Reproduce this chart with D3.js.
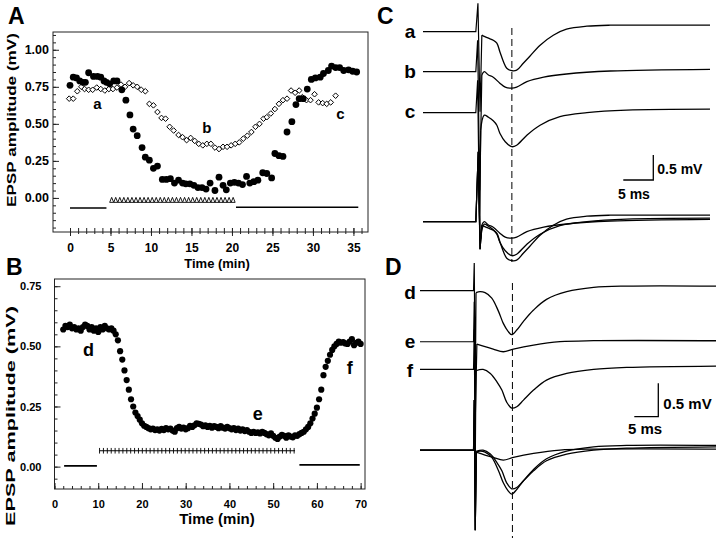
<!DOCTYPE html>
<html><head><meta charset="utf-8">
<script src="https://cdn.jsdelivr.net/npm/d3@7"></script>
<style>
body{margin:0;background:#fff}
svg{display:block}
text{font-family:"Liberation Sans",Arial,Helvetica,sans-serif;font-weight:bold;fill:#000}
</style>
</head><body>
<svg id="fig" width="720" height="540"></svg>
<script>
// ---------------- DATA ----------------
// Panel A: filled circles
const aTimesFilled = [0.0,0.4,0.8,1.2,1.6,1.9,2.3,2.9,3.4,3.8,4.2,4.5,4.9,5.4,5.8,6.4,6.9,7.4,7.8,8.3,8.9,9.3,9.8,10.3,10.8,11.4,11.9,12.4,12.9,13.4,13.9,14.3,14.8,15.3,15.8,16.3,16.8,17.3,17.9,18.4,18.9,19.3,19.8,20.3,20.8,21.3,21.8,22.2,22.7,23.2,23.8,24.3,24.9,25.3,25.8,26.3,26.8,27.4,27.9,28.3,28.8,29.3,29.8,30.3,30.9,31.3,31.9,32.3,32.8,33.3,33.8,34.4,34.9,35.4];
const aFilled = [0.76,0.815,0.81,0.79,0.78,0.78,0.845,0.82,0.82,0.815,0.79,0.78,0.77,0.79,0.79,0.73,0.66,0.56,0.465,0.42,0.34,0.275,0.255,0.20,0.215,0.125,0.125,0.13,0.10,0.12,0.10,0.095,0.095,0.085,0.07,0.07,0.06,0.10,0.05,0.14,0.085,0.055,0.10,0.105,0.10,0.09,0.145,0.10,0.11,0.12,0.17,0.165,0.135,0.30,0.285,0.28,0.445,0.515,0.63,0.67,0.67,0.735,0.80,0.81,0.815,0.84,0.86,0.89,0.88,0.88,0.86,0.865,0.855,0.85];
// Panel A: open diamonds
const aTimesOpen = [-0.1,0.4,0.9,1.4,1.8,2.3,2.8,3.3,3.8,4.3,4.8,5.3,5.8,6.3,6.8,7.3,7.8,8.3,8.8,9.3,9.8,10.3,10.8,11.3,11.8,12.3,12.8,13.4,13.9,14.4,14.9,15.4,15.9,16.4,16.9,17.4,17.9,18.4,18.9,19.4,19.9,20.4,20.9,21.4,21.9,22.4,22.9,23.4,23.9,24.3,24.8,25.3,25.8,26.3,26.8,27.3,27.8,28.3,28.7,29.2,29.7,30.2,30.7,31.2,31.7,32.2,32.8];
const aOpen = [0.67,0.67,0.72,0.75,0.735,0.73,0.73,0.745,0.735,0.725,0.735,0.735,0.745,0.765,0.75,0.775,0.76,0.75,0.73,0.72,0.635,0.625,0.58,0.54,0.535,0.48,0.455,0.425,0.41,0.39,0.405,0.385,0.365,0.355,0.365,0.365,0.34,0.33,0.345,0.345,0.355,0.365,0.375,0.40,0.42,0.445,0.48,0.50,0.535,0.545,0.57,0.60,0.635,0.66,0.67,0.725,0.71,0.725,0.68,0.66,0.66,0.70,0.645,0.64,0.635,0.645,0.69];
const aXTicks = [0,5,10,15,20,25,30,35];
const aYTicks = [0,0.25,0.5,0.75,1.0];
// A application bars: [start, end, level, kind]
const aBars = [[0,4.5,-0.068,"line"],[4.9,20.1,-0.03,"triangles"],[20.5,35.6,-0.063,"line"]];
const aLabels = [["a",3.4,0.6],["b",16.9,0.44],["c",33.4,0.53]];

// Panel B
const bTimes = [2,2.5,3,3.5,4,4.5,5,5.5,6,6.5,7,7.5,8,8.5,9,9.5,10,10.5,11,11.5,12,12.5,13,13.5,14,14.5,15,15.5,16,16.5,17,17.5,18,18.5,19,19.5,20,20.5,21,21.5,22,22.5,23,23.5,24,24.5,25,25.5,26,26.5,27,27.5,28,28.5,29,29.5,30,30.5,31,31.5,32,32.5,33,33.5,34,34.5,35,35.5,36,36.5,37,37.5,38,38.5,39,39.5,40,40.5,41,41.5,42,42.5,43,43.5,44,44.5,45,45.5,46,46.5,47,47.5,48,48.5,49,49.5,50,50.5,51,51.5,52,52.5,53,53.5,54,54.5,55,55.5,56,56.5,57,57.5,58,58.5,59,59.5,60,60.5,61,61.5,62,62.5,63,63.5,64,64.5,65,65.5,66,66.5,67,67.5,68,68.5,69,69.5,70];
const bValues = [0.57,0.585,0.58,0.59,0.575,0.58,0.57,0.575,0.565,0.58,0.59,0.585,0.57,0.58,0.565,0.575,0.56,0.58,0.57,0.585,0.575,0.57,0.575,0.565,
0.55,0.525,0.48,0.445,0.40,0.36,0.32,0.28,0.25,0.225,0.21,0.195,0.18,0.17,0.165,0.16,0.155,
0.158,0.152,0.155,0.15,0.157,0.152,0.16,0.155,0.158,0.15,0.145,0.16,0.165,0.158,0.162,0.155,0.16,0.17,0.165,0.172,0.18,0.178,0.175,0.168,0.172,0.165,0.17,0.162,0.168,0.165,0.16,0.168,0.162,0.158,0.165,0.16,0.155,0.16,0.152,0.158,0.15,0.155,0.148,0.152,0.145,0.14,0.145,0.14,0.142,0.138,0.145,0.14,0.135,0.13,0.138,0.128,0.12,0.115,0.125,0.132,0.128,0.12,0.13,0.125,0.122,0.13,0.128,0.135,0.14,0.145,
0.155,0.165,0.18,0.2,0.22,0.245,0.28,0.32,0.38,0.415,0.44,0.465,0.485,0.5,0.51,0.52,0.515,0.518,0.512,0.51,0.52,0.53,0.505,0.515,0.52,0.51];
const bXTicks = [0,10,20,30,40,50,60,70];
const bYTicks = [0,0.25,0.5,0.75];
const bBars = [[2.2,9.7,0.003,"line"],[10.3,55,0.066,"crosses"],[56,69.8,0.007,"line"]];
const bLabels = [["d",7.8,0.46],["e",46.5,0.195],["f",67.5,0.385]];

// Panel C traces: [ms, mV]; artifact part then EPSP part
const cArtA = [[-9,0],[-0.2,0],[0.15,0.57],[0.5,-1.6],[0.8,-0.07]];
const cWaveA = [[0.8,-0.07],[1.3,-0.1],[1.9,-0.13],[2.7,-0.17],[3.3,-0.23],[3.8,-0.4],[4.4,-0.6],[4.95,-0.73],[5.8,-0.78],[6.6,-0.77],[7.7,-0.63],[8.8,-0.49],[10.5,-0.27],[12.7,-0.07],[14.9,0.05],[18.3,0.11],[22.2,0.13],[27.7,0.13],[38.8,0.13]];
const cArtB = [[-9,0],[-0.2,0],[0.1,0.63],[0.45,-2.37],[0.8,-0.066]];
const cWaveB = [[0.8,-0.066],[1.2,0],[1.9,-0.066],[2.7,-0.11],[3.8,-0.23],[4.7,-0.31],[5.8,-0.33],[6.6,-0.31],[8.3,-0.2],[11.1,-0.11],[14.9,-0.046],[22.2,0.014],[38.8,0.048]];
const cArtC = [[-9,0],[-0.2,0],[0.1,0.65],[0.45,-2.55],[0.6,-0.35]];
const cWaveC = [[0.6,-0.35],[1.2,-0.05],[1.9,-0.09],[2.7,-0.16],[3.3,-0.25],[3.8,-0.41],[4.7,-0.58],[5.8,-0.68],[6.6,-0.65],[8.3,-0.45],[10.5,-0.25],[13.8,-0.08],[18.3,0],[24.9,0.05],[38.8,0.07]];
const cArtOverlay = [[-9,0],[-0.2,0],[0.2,1.4],[0.5,-0.55],[0.8,-0.07]];
const cPeakMs = 5.8;

// Panel D traces
const dArtD = [[-11.25,0],[-0.1,0],[0.05,0.415],[0.25,-1.64],[0.42,-0.03]];
const dWaveD = [[0.42,-0.03],[1.25,-0.015],[2.3,-0.03],[3.7,-0.11],[5.1,-0.31],[6.1,-0.49],[7.1,-0.61],[7.85,-0.66],[8.9,-0.59],[10.3,-0.46],[12.4,-0.29],[15.1,-0.13],[19.3,-0.015],[24.9,0.05],[31.8,0.07],[50.4,0.07]];
const dArtE = [[-11.25,0],[-0.1,0],[0.05,0.6],[0.25,-1.2],[0.6,-0.035]];
const dWaveE = [[0.6,-0.035],[2.3,-0.075],[4.0,-0.11],[6.1,-0.15],[8.2,-0.11],[12.4,-0.05],[17.9,0],[24.9,0.015],[50.4,0.015]];
const dArtF = [[-11.25,0],[-0.1,0],[0.05,0.6],[0.25,-1.5],[0.4,-0.02]];
const dWaveF = [[0.4,-0.02],[1.9,0],[3.4,-0.06],[4.8,-0.19],[5.8,-0.31],[6.8,-0.49],[7.85,-0.58],[8.9,-0.56],[10.3,-0.46],[12.4,-0.31],[15.1,-0.16],[19.3,-0.06],[24.9,0],[31.8,0.03],[50.4,0.05]];
const dArtOverlay = [[-11.25,0],[-0.1,0],[0.05,0.75],[0.25,-1.2],[0.5,-0.03]];
const dPeakMs = 8.0;

// ---------------- DRAW ----------------
const svg = d3.select("#fig");
const FONT = '"Liberation Sans",Arial,Helvetica,sans-serif';
function txt(x,y,s,size,anchor){
  return svg.append("text").attr("x",x).attr("y",y).attr("font-size",size)
    .attr("text-anchor",anchor||"start").text(s);
}
function boldTicks(g,size){
  g.selectAll("text").attr("font-size",size).attr("font-family",FONT).attr("font-weight","bold").attr("fill","#000");
}

// ===== Panel A =====
const xA = d3.scaleLinear().domain([-2.1,36.8]).range([53,368]);
const yA = d3.scaleLinear().domain([-0.23,1.12]).range([232,32]);
const gA = svg.append("g");
gA.append("rect").attr("x",53).attr("y",32).attr("width",315).attr("height",200)
  .attr("fill","none").attr("stroke","#222").attr("stroke-width",1);
gA.append("g").attr("transform","translate(0,228)")
  .call(d3.axisBottom(xA).tickValues(d3.range(0,37)).tickSize(6).tickFormat(""))
  .call(g=>g.select(".domain").remove());
gA.append("g").attr("transform","translate(0,228)")
  .call(d3.axisBottom(xA).tickValues(aXTicks).tickSize(8).tickPadding(7))
  .call(g=>g.select(".domain").remove())
  .call(g=>boldTicks(g,12));
gA.append("g").attr("transform","translate(53,0)")
  .call(d3.axisLeft(yA).tickValues(d3.range(-0.2,1.101,0.05)).tickSize(-3).tickFormat(""))
  .call(g=>g.select(".domain").remove());
gA.append("g").attr("transform","translate(53,0)")
  .call(d3.axisLeft(yA).tickValues(aYTicks).tickSize(-6).tickPadding(4).tickFormat(d3.format(".2f")))
  .call(g=>g.select(".domain").remove())
  .call(g=>boldTicks(g,12.5));
svg.selectAll(".tick line").attr("stroke","#222");
gA.selectAll("path.dia").data(aOpen).join("path").attr("class","dia")
  .attr("d",(d,i)=>{const cx=xA(aTimesOpen[i]),cy=yA(d),r=2.8;return `M${cx},${cy-r}L${cx+r},${cy}L${cx},${cy+r}L${cx-r},${cy}Z`;})
  .attr("fill","#fff").attr("stroke","#000").attr("stroke-width",1);
gA.selectAll("circle.f").data(aFilled).join("circle").attr("class","f")
  .attr("cx",(d,i)=>xA(aTimesFilled[i])).attr("cy",d=>yA(d)).attr("r",3.4).attr("fill","#000");
aBars.forEach(([s,e,lv,kind])=>{
  if(kind==="line"){
    gA.append("line").attr("x1",xA(s)).attr("x2",xA(e)).attr("y1",yA(lv)).attr("y2",yA(lv))
      .attr("stroke","#000").attr("stroke-width",1.6);
  } else {
    const yb=yA(lv);
    d3.range(s,e,0.5).forEach(t=>{
      const cx=xA(t)+2;
      gA.append("path").attr("d",`M${cx-2},${yb}L${cx},${yb-5}L${cx+2},${yb}Z`)
        .attr("fill","#fff").attr("stroke","#000").attr("stroke-width",0.9);
    });
  }
});
aLabels.forEach(([s,t,v])=>txt(xA(t),yA(v),s,15,"middle"));
txt(217,268,"Time  (min)",13,"middle");
svg.append("text").attr("transform","translate(16,120) rotate(-90)").attr("text-anchor","middle")
  .attr("font-size",12).attr("textLength",174).attr("lengthAdjust","spacingAndGlyphs").text("EPSP amplitude (mV)");
txt(8,24,"A",23);

// ===== Panel B =====
const xB = d3.scaleLinear().domain([0,71]).range([54.5,365]);
const yB = d3.scaleLinear().domain([-0.093,0.78]).range([489,279]);
const gB = svg.append("g");
gB.append("rect").attr("x",54.5).attr("y",279).attr("width",310.5).attr("height",210)
  .attr("fill","none").attr("stroke","#222").attr("stroke-width",1);
gB.append("g").attr("transform","translate(0,489)")
  .call(d3.axisBottom(xB).tickValues(d3.range(0,71,2)).tickSize(-3).tickFormat(""))
  .call(g=>g.select(".domain").remove());
gB.append("g").attr("transform","translate(0,489)")
  .call(d3.axisBottom(xB).tickValues(bXTicks).tickSize(-6).tickPadding(11))
  .call(g=>g.select(".domain").remove())
  .call(g=>boldTicks(g,11));
gB.append("g").attr("transform","translate(54.5,0)")
  .call(d3.axisLeft(yB).tickValues(d3.range(-0.05,0.751,0.05)).tickSize(-3).tickFormat(""))
  .call(g=>g.select(".domain").remove());
gB.append("g").attr("transform","translate(54.5,0)")
  .call(d3.axisLeft(yB).tickValues(bYTicks).tickSize(-6).tickPadding(13).tickFormat(d3.format(".2f")))
  .call(g=>g.select(".domain").remove())
  .call(g=>boldTicks(g,11));
svg.selectAll(".tick line").attr("stroke","#222");
gB.selectAll("circle.b").data(bValues).join("circle").attr("class","b")
  .attr("cx",(d,i)=>xB(bTimes[i])).attr("cy",d=>yB(d)).attr("r",3.1).attr("fill","#000");
bBars.forEach(([s,e,lv,kind])=>{
  const yb=yB(lv);
  if(kind==="line"){
    gB.append("line").attr("x1",xB(s)).attr("x2",xB(e)).attr("y1",yb).attr("y2",yb)
      .attr("stroke","#000").attr("stroke-width",1.8);
  } else {
    gB.append("line").attr("x1",xB(s)).attr("x2",xB(e)).attr("y1",yb).attr("y2",yb)
      .attr("stroke","#000").attr("stroke-width",1);
    d3.range(s,e+0.01,0.89).forEach(t=>{
      gB.append("line").attr("x1",xB(t)).attr("x2",xB(t)).attr("y1",yb-2.8).attr("y2",yb+2.8)
        .attr("stroke","#000").attr("stroke-width",0.9);
    });
  }
});
bLabels.forEach(([s,t,v])=>txt(xB(t),yB(v),s,18,"middle"));
txt(217,524,"Time (min)",15,"middle");
svg.append("text").attr("transform","translate(15,416) rotate(-90)").attr("text-anchor","middle")
  .attr("font-size",13.5).attr("textLength",220).attr("lengthAdjust","spacingAndGlyphs").text("EPSP amplitude (mV)");
txt(6,275,"B",23);

// ===== Traces =====
function drawTraces(xs, ys, offsets, arts, waves, peak, dashY){
  const g = svg.append("g").attr("fill","none").attr("stroke","#000");
  waves.forEach((w,i)=>{
    const off = offsets[i];
    const ln = d3.line().x(d=>xs(d[0])).y(d=>ys(d[1]+off));
    g.append("path").attr("d",ln.curve(d3.curveLinear)(arts[i])).attr("stroke-width",1.2);
    g.append("path").attr("d",ln.curve(d3.curveCatmullRom.alpha(0.5))(w)).attr("stroke-width",1.3);
  });
  g.append("line").attr("x1",xs(peak)).attr("x2",xs(peak)).attr("y1",dashY[0]).attr("y2",dashY[1])
    .attr("stroke-width",1).attr("stroke-dasharray","7,4");
}

// C
const xC = d3.scaleLinear().domain([-9,38.8]).range([423,710]);
const yC = d3.scaleLinear().domain([0,-1]).range([31.7,81.7]);
const cOffsets = [0,-0.8,-1.62,-3.8,-3.8,-3.8];
drawTraces(xC,yC,cOffsets,
  [cArtA,cArtB,cArtC,cArtOverlay,cArtOverlay,cArtOverlay],
  [cWaveA,cWaveB,cWaveC,cWaveA,cWaveB,cWaveC], cPeakMs,[28,262]);
txt(377,24,"C",23);
[["a",0,6],["b",-0.8,6],["c",-1.62,5]].forEach(([s,o,dy])=>txt(410,yC(o)+dy,s,19,"middle"));
{
  const x0 = 653.3, y0 = 180;
  const w = xC(5)-xC(0), h = yC(-0.5)-yC(0);
  svg.append("path").attr("d",`M${x0-w},${y0}H${x0}V${y0-h}`).attr("fill","none").attr("stroke","#000").attr("stroke-width",1.3);
  txt(x0+4,173.5,"0.5 mV",14);
  txt(618,198.5,"5 ms",14);
}

// D
const xD = d3.scaleLinear().domain([-11.25,50.4]).range([420,716]);
const yD = d3.scaleLinear().domain([0,-1]).range([290.7,357.4]);
const dOffsets = [0,-0.765,-1.18,-2.39,-2.39,-2.39];
drawTraces(xD,yD,dOffsets,
  [dArtD,dArtE,dArtF,dArtOverlay,dArtOverlay,dArtOverlay],
  [dWaveD,dWaveE,dWaveF,dWaveD,dWaveE,dWaveF], dPeakMs,[283,538]);
txt(385,275,"D",23);
[["d",0,8.6],["e",-0.765,6.6],["f",-1.18,7.4]].forEach(([s,o,dy])=>txt(410,yD(o)+dy,s,19,"middle"));
{
  const x0 = 658.3, y0 = 416.7;
  const w = xD(5)-xD(0), h = yD(-0.5)-yD(0);
  svg.append("path").attr("d",`M${x0-w},${y0}H${x0}V${y0-h}`).attr("fill","none").attr("stroke","#000").attr("stroke-width",1.3);
  txt(x0+5,408.5,"0.5 mV",15);
  txt(628,433.5,"5 ms",15);
}
</script>
</body></html>
